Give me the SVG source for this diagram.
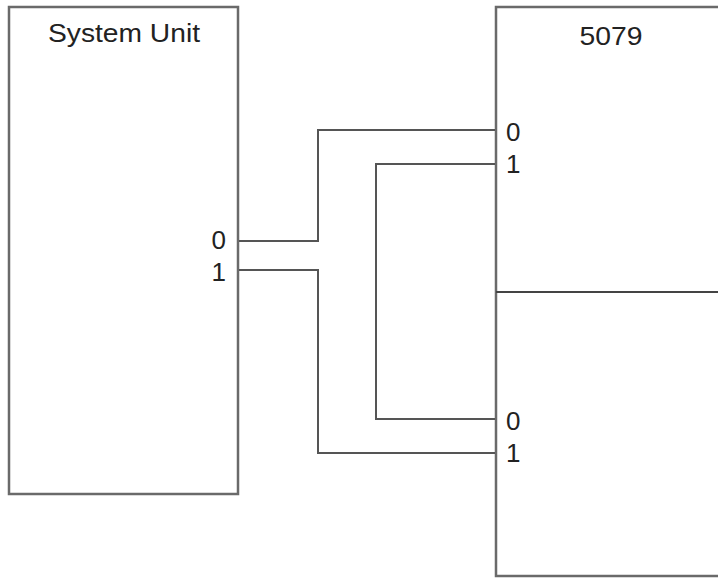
<svg xmlns="http://www.w3.org/2000/svg" width="718" height="578" viewBox="0 0 718 578">
<style>
.box{fill:#fff;stroke:#6a6a6a;stroke-width:2.5}
.lbl{font-family:"Liberation Sans",Arial,sans-serif;font-size:26px;fill:#222}
.wire{fill:none;stroke:#555;stroke-width:2}
</style>
<rect width="718" height="578" fill="#fff"/>
<g id="system-unit">
<rect class="box" x="9" y="7" width="229" height="487"/>
<text class="lbl" x="124" y="42" text-anchor="middle" textLength="152" lengthAdjust="spacingAndGlyphs">System Unit</text>
<text class="lbl" x="226" y="249" text-anchor="end">0</text>
<text class="lbl" x="226" y="281" text-anchor="end">1</text>
</g>
<g id="unit-5079">
<rect class="box" x="496" y="7" width="240" height="569"/>
<line x1="496" y1="292" x2="718" y2="292" stroke="#444" stroke-width="2"/>
<text class="lbl" x="611" y="45" text-anchor="middle" textLength="63" lengthAdjust="spacingAndGlyphs">5079</text>
<text class="lbl" x="506" y="141">0</text>
<text class="lbl" x="506" y="173">1</text>
<text class="lbl" x="506" y="430">0</text>
<text class="lbl" x="506" y="462">1</text>
</g>
<g id="connectors">
<polyline class="wire" points="239,241 318,241 318,130 495,130"/>
<polyline class="wire" points="239,270 318,270 318,453 495,453"/>
<polyline class="wire" points="495,164 376,164 376,419 495,419"/>
</g>
</svg>
